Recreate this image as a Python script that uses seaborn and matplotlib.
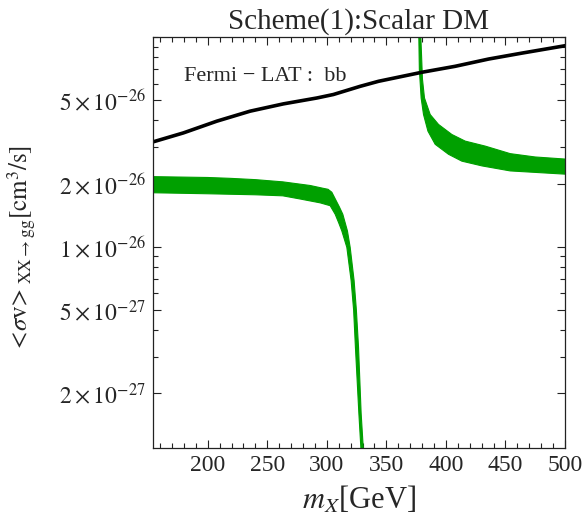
import numpy as np
import pandas as pd
import seaborn as sns
import matplotlib
matplotlib.use("Agg")
import matplotlib.pyplot as plt
from matplotlib.ticker import FixedLocator, FixedFormatter, LogLocator, MultipleLocator, NullFormatter

# Fermi-LAT bb limit (GeV, cm^3/s)
fermi_m = [153.8, 179.5, 207.6, 235.5, 263.5, 291.6, 305.5, 328.0, 343.4, 379.8, 407.8, 435.8, 463.9, 500.3]
fermi_sv = [3.16e-26, 3.49e-26, 3.97e-26, 4.43e-26, 4.80e-26, 5.12e-26, 5.32e-26, 5.82e-26,
            6.15e-26, 6.79e-26, 7.25e-26, 7.85e-26, 8.38e-26, 9.09e-26]

# scalar DM band, branch below the dip (upper / lower edge)
low_up_m = [154, 200, 219, 240, 263, 286, 297, 301, 304.2, 307.8, 310.5, 313.4, 317.3, 319.6,
            322.9, 324.8, 326.6, 328.8, 330.8]
low_up_sv = [2.16e-26, 2.14e-26, 2.12e-26, 2.09e-26, 2.04e-26, 1.96e-26, 1.90e-26, 1.88e-26, 1.82e-26,
             1.66e-26, 1.55e-26, 1.43e-26, 1.19e-26, 9.94e-27, 6.9e-27, 5.0e-27, 3.33e-27, 1.61e-27, 1.05e-27]
low_lo_m = [154, 200, 240, 263, 277.6, 294.4, 302.8, 307, 310, 312.6, 316.8, 320.4, 322.5, 324, 326.9, 328.8]
low_lo_sv = [1.81e-26, 1.79e-26, 1.77e-26, 1.75e-26, 1.69e-26, 1.62e-26, 1.57e-26, 1.43e-26, 1.30e-26,
             1.19e-26, 9.94e-27, 6.9e-27, 5.0e-27, 3.33e-27, 1.61e-27, 1.05e-27]

# branch above the pole
high_up_m = [378.8, 380.3, 382.0, 386.8, 393.8, 405.0, 416.2, 433.0, 454, 475, 500]
high_up_sv = [1.05e-25, 6.3e-26, 5.12e-26, 4.27e-26, 3.83e-26, 3.43e-26, 3.19e-26, 3.02e-26,
              2.78e-26, 2.68e-26, 2.62e-26]
high_lo_m = [377.2, 377.7, 379.2, 381.2, 384.9, 391.0, 402.2, 413.4, 430.3, 454, 500]
high_lo_sv = [1.05e-25, 7.0e-26, 5.12e-26, 4.27e-26, 3.56e-26, 3.08e-26, 2.76e-26, 2.56e-26,
              2.43e-26, 2.30e-26, 2.22e-26]

ytick_vals = [2e-27, 5e-27, 1e-26, 2e-26, 5e-26]
ytick_labels = [r'$2\times10^{-27}$', r'$5\times10^{-27}$', r'$1\times10^{-26}$',
                r'$2\times10^{-26}$', r'$5\times10^{-26}$']

sns.set_style("ticks")
plt.rcParams['font.family'] = ['Liberation Serif', 'DejaVu Serif']
plt.rcParams['mathtext.fontset'] = 'stix'

green = '#00a000'

fig = plt.figure(figsize=(5.85, 5.27), dpi=100)
ax = fig.add_axes([0.2615, 0.150, 0.7043, 0.7798])

fermi = pd.DataFrame({'m': fermi_m, 'sv': fermi_sv})
sns.lineplot(data=fermi, x='m', y='sv', color='black', lw=2.6, ax=ax)

# bands as closed polygons: upper edge then lower edge reversed
ax.fill(low_up_m + low_lo_m[::-1], low_up_sv + low_lo_sv[::-1], color=green, lw=0.8, ec=green)
ax.fill(high_up_m + high_lo_m[::-1], high_up_sv + high_lo_sv[::-1], color=green, lw=0.8, ec=green)

ax.set_yscale('log')
ax.set_xlim(154, 500)
ax.set_ylim(1.1e-27, 1.0e-25)

ax.xaxis.set_major_locator(MultipleLocator(50))
ax.xaxis.set_minor_locator(MultipleLocator(10))
ax.set_xticks([200, 250, 300, 350, 400, 450, 500])
ax.yaxis.set_major_locator(FixedLocator(ytick_vals))
ax.yaxis.set_major_formatter(FixedFormatter(ytick_labels))
ax.yaxis.set_minor_locator(LogLocator(base=10, subs=np.arange(1, 10)))
ax.yaxis.set_minor_formatter(NullFormatter())

ax.tick_params(which='both', direction='in', top=True, right=True, color='#222222', width=0.8)
ax.tick_params(which='major', length=6, labelsize=17, pad=5)
ax.tick_params(which='minor', length=3.5)
for s in ax.spines.values():
    s.set_linewidth(0.9)
    s.set_color('#222222')

ax.text(180, 6.5e-26, 'Fermi − LAT :  bb', fontsize=16, ha='left', va='center')

ax.set_title('Scheme(1):Scalar DM', fontsize=21, pad=6)
ax.set_xlabel(r'$m_X$[GeV]', fontsize=22)
ax.set_ylabel(r'$<\!\sigma\mathrm{v}\!>_{\mathrm{XX}\rightarrow\mathrm{gg}}[\mathrm{cm}^3/\mathrm{s}]$', fontsize=18)
ax.xaxis.set_label_coords(0.5, -0.09)
ax.yaxis.set_label_coords(-0.282, 0.485)

fig.savefig('out.png', dpi=100)
